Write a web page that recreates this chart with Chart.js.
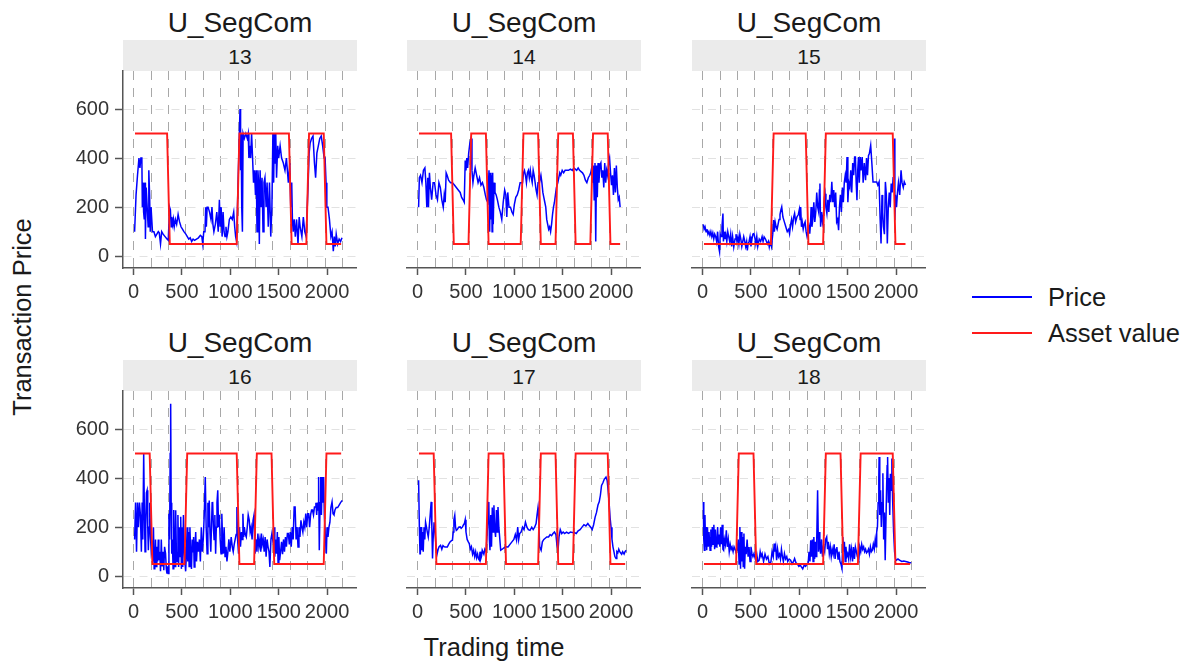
<!DOCTYPE html>
<html>
<head>
<meta charset="utf-8">
<script src="https://cdn.jsdelivr.net/npm/chart.js@4/dist/chart.umd.min.js"></script>
<style>
body { margin: 0; background: #fff; }
#fig { position: relative; width: 1192px; height: 667px; overflow: hidden; font-family: "Liberation Sans", Arial, sans-serif; color: #1a1a1a; }
.txt { position: absolute; white-space: nowrap; line-height: 1; }
.strip { position: absolute; background: #ebebeb; }
.box { position: absolute; }
.key { position: absolute; height: 2px; }
</style>
</head>
<body>
<div id="fig"></div>
<script>
// ---- data ----
const panelLabels = ["13", "14", "15", "16", "17", "18"];
const periodEdges = [0, 180, 360, 540, 720, 900, 1080, 1260, 1440, 1620, 1800, 1980, 2160];
const xTicks = [0, 500, 1000, 1500, 2000];
const yTicks = [0, 200, 400, 600];

// asset value per trading period
const asset13 = [500, 500, 50, 50, 50, 50, 500, 500, 500, 50, 500, 50];
const asset14 = [500, 500, 50, 500, 50, 50, 500, 50, 500, 50, 500, 50];
const asset15 = [50, 50, 50, 50, 500, 500, 50, 500, 500, 500, 500, 50];
const asset16 = [500, 50, 50, 500, 500, 500, 50, 500, 50, 50, 50, 500];
const asset17 = [500, 50, 50, 50, 500, 50, 50, 500, 50, 500, 500, 50];
const asset18 = [50, 50, 500, 50, 50, 50, 50, 500, 50, 500, 500, 50];

// transaction prices [time, price]
const price13 = [[10,100],[25,250],[40,330],[55,400],[65,360],[75,400],[85,400],[90,200],[97,300],[103,180],[110,150],[118,300],[122,70],[130,280],[140,200],[150,120],[157,350],[165,250],[172,100],[180,200],[195,100],[210,100],[225,80],[240,90],[255,100],[265,95],[278,50],[290,100],[305,90],[325,80],[345,70],[358,65],
[372,200],[380,190],[388,120],[395,160],[405,130],[412,150],[420,120],[432,150],[445,130],[460,170],[475,140],[490,120],[505,110],[520,100],[540,90],[555,80],[570,70],[585,75],[600,60],[615,70],[630,65],[650,70],[670,75],[690,85],[705,80],[715,50],[725,100],
[738,100],[745,200],[752,120],[760,200],[770,200],[785,180],[800,150],[810,200],[820,130],[830,100],[845,130],[860,180],[875,100],[887,230],[895,120],[905,200],[915,80],[925,180],[935,100],[945,80],[955,120],[965,80],[975,100],[990,150],[1005,160],[1020,150],[1035,180],[1045,120],[1055,80],[1065,60],
[1080,300],[1090,450],[1100,600],[1106,350],[1112,500],[1118,200],[1125,100],[1132,500],[1145,480],[1160,500],[1175,480],[1185,500],[1192,400],[1200,450],[1210,400],[1220,500],[1230,400],[1240,300],[1250,350],[1260,250],[1268,350],[1276,100],[1285,350],[1293,300],[1300,50],[1308,350],[1318,200],[1328,320],[1338,100],[1348,300],[1358,320],[1370,200],[1380,300],[1392,120],[1405,300],[1418,80],[1430,200],[1440,500],[1448,300],[1455,500],[1463,380],[1470,500],[1478,320],[1490,450],[1500,400],[1515,450],[1530,400],[1548,380],[1565,350],[1580,400],[1600,300],[1615,380],[1625,200],[1635,300],[1642,150],[1650,100],[1660,150],[1672,80],[1685,150],[1700,50],[1712,160],[1722,120],[1740,80],[1755,160],[1770,100],[1784,80],
[1805,300],[1815,420],[1825,460],[1840,480],[1855,490],[1870,380],[1882,320],[1895,420],[1910,450],[1925,480],[1940,490],[1955,450],[1970,400],[1980,400],[1990,300],[1998,200],[2010,200],[2025,150],[2040,80],[2052,100],[2065,20],[2075,80],[2085,40],[2095,90],[2110,50],[2125,70],[2140,60],[2155,75]];

const price14 = [[10,200],[18,320],[30,330],[45,300],[60,350],[75,360],[85,300],[95,200],[105,320],[112,200],[122,340],[132,280],[145,230],[160,300],[175,300],[190,250],[205,230],[220,300],[235,280],[250,230],[265,200],[275,250],[285,220],[295,340],[305,330],[320,310],[340,300],[360,300],[380,290],[400,280],[420,270],[440,260],[455,240],[470,230],[482,220],[492,390],[500,350],[508,400],[517,360],[528,420],[540,460],[552,480],[562,350],[572,300],[582,330],[595,360],[610,330],[625,300],[640,320],[655,290],[670,300],[685,280],[700,250],[712,230],
[725,220],[738,350],[745,100],[752,340],[758,150],[764,330],[770,100],[776,340],[782,130],[790,300],[800,260],[812,250],[825,230],[840,200],[855,180],[870,150],[885,220],[900,270],[912,250],[922,160],[932,260],[945,200],[960,200],[975,180],[988,170],[1000,210],[1015,240],[1030,250],[1045,270],[1060,300],[1075,300],
[1085,300],[1095,340],[1105,350],[1115,330],[1125,300],[1135,340],[1145,350],[1155,320],[1165,350],[1175,320],[1185,300],[1195,350],[1205,330],[1215,300],[1225,270],[1235,250],[1245,300],[1255,330],
[1265,310],[1275,330],[1285,300],[1295,260],[1305,240],[1315,220],[1325,200],[1335,150],[1345,130],[1355,110],[1365,120],[1375,100],[1385,130],[1395,170],[1405,200],[1415,220],[1425,250],[1435,280],
[1450,300],[1460,320],[1470,340],[1480,330],[1495,350],[1510,340],[1525,350],[1545,350],[1560,350],[1580,355],[1600,350],[1615,360],
[1630,355],[1645,350],[1660,360],[1675,350],[1690,345],[1705,340],[1720,330],[1735,310],[1750,300],[1765,320],[1780,330],[1790,340],
[1800,360],[1810,300],[1818,370],[1826,230],[1834,380],[1842,60],[1850,370],[1858,240],[1866,380],[1875,300],[1885,370],[1895,380],[1905,320],[1915,350],[1925,280],[1935,380],[1945,300],[1955,350],[1965,330],[1975,380],[1985,400],
[1995,340],[2005,290],[2015,330],[2025,250],[2035,360],[2045,260],[2055,370],[2065,280],[2075,230],[2085,240],[2094,200]];

const price15 = [[7,130],[15,110],[25,120],[35,100],[45,110],[55,90],[65,100],[75,85],[85,100],[95,80],[105,95],[115,70],[125,90],[135,80],[145,60],[155,100],[165,40],[175,18],[182,90],[190,80],[200,120],[210,174],[215,60],[222,100],[230,70],[240,90],[250,60],[260,100],[270,80],[280,60],[290,90],[300,40],[310,80],[322,38],[335,70],[345,90],[355,60],[365,80],[375,50],[385,90],[395,70],[405,40],[415,60],[425,80],[434,65],[445,40],[455,60],[462,24],[470,50],[480,60],[490,80],[500,40],[510,70],[520,90],[531,92],[540,75],[550,50],[560,80],[570,40],[585,70],[600,60],[615,80],[625,60],[636,79],[650,70],[660,60],[670,50],[680,60],[689,38],[700,60],[712,40],
[725,90],[734,147],[742,100],[750,140],[760,120],[770,110],[780,130],[790,150],[800,170],[810,190],[818,201],[830,160],[845,140],[860,120],[875,100],[890,110],[899,92],[910,130],[920,150],[930,120],[942,160],[951,174],[962,140],[975,160],[990,170],[1000,190],[1008,150],[1014,201],[1022,120],[1030,140],[1040,110],[1050,130],[1060,140],[1070,100],[1080,80],
[1090,100],[1100,120],[1108,92],[1115,130],[1122,201],[1130,120],[1140,150],[1150,220],[1160,140],[1170,180],[1180,260],[1190,200],[1200,180],[1208,270],[1213,296],[1220,120],[1230,180],[1240,140],[1250,170],[1260,240],[1266,255],[1275,200],[1285,174],[1295,230],[1305,180],[1315,250],[1325,220],[1336,303],[1346,220],[1356,270],[1366,200],[1376,260],[1386,140],[1396,150],[1406,106],[1415,200],[1425,250],[1435,180],[1445,280],[1455,220],[1465,300],[1475,330],[1485,300],[1493,404],[1502,220],[1512,300],[1522,282],[1532,350],[1542,260],[1552,380],[1562,330],[1572,404],[1580,404],[1588,300],[1596,228],[1604,350],[1612,404],[1620,300],[1630,404],[1638,350],[1650,404],[1660,300],[1672,380],[1685,310],[1695,400],[1705,330],[1715,410],[1725,420],[1738,452],[1750,380],[1762,303],[1775,303],[1790,303],[1800,303],[1812,290],[1825,303],[1835,160],[1845,52],[1855,250],[1862,180],[1870,120],[1880,90],[1890,303],[1900,250],[1910,52],[1920,200],[1930,260],[1940,200],[1950,296],[1960,260],[1970,320],[1978,364],[1983,480],[1988,147],[1995,250],[2005,200],[2015,260],[2025,300],[2038,250],[2052,350],[2062,300],[2075,280],[2085,303],[2098,290]];

const price16 = [[10,150],[20,300],[30,100],[40,300],[50,200],[60,300],[70,250],[80,100],[88,300],[95,150],[104,500],[110,300],[118,100],[125,200],[132,340],[139,350],[146,200],[152,106],[160,200],[167,300],[174,160],[182,100],[190,120],
[198,60],[205,200],[212,30],[219,38],[226,150],[232,40],[240,120],[248,60],[255,150],[261,65],[270,100],[278,20],[286,150],[295,40],[304,100],[312,24],[320,120],[330,92],[338,30],[345,11],[352,40],[358,11],[365,255],[372,150],[378,500],[383,703],[388,300],[394,92],[400,150],[408,30],[415,270],[422,150],[428,40],[435,269],[442,100],[450,60],[458,250],[465,38],[472,200],[480,80],[487,242],[494,30],[501,200],[508,38],[515,250],[522,120],[530,60],[538,20],
[546,92],[553,200],[560,60],[567,180],[574,40],[582,200],[590,100],[598,30],[606,150],[614,100],[620,160],[626,38],[634,120],[642,180],[650,60],[660,140],[670,100],[680,150],[690,60],[700,200],[710,100],[720,150],[730,250],[741,404],[750,200],[760,92],[768,300],[775,200],[782,309],[790,174],[798,100],[805,200],[812,300],[817,303],[825,200],[832,150],[840,250],[848,92],[855,200],[862,300],[870,350],[878,200],[886,250],[895,150],[904,92],[912,255],[920,150],[928,92],[936,200],[945,80],[955,120],[965,60],[975,100],[985,150],[995,100],[1009,160],[1020,120],[1030,100],[1040,130],[1050,150],[1060,170],[1068,282],[1075,150],
[1085,92],[1095,200],[1105,120],[1115,180],[1125,150],[1130,255],[1138,160],[1145,200],[1155,170],[1165,160],[1175,200],[1185,250],[1195,230],[1205,180],[1215,200],[1225,150],[1235,228],[1245,250],[1255,92],
[1265,150],[1275,100],[1285,174],[1295,120],[1305,150],[1315,100],[1322,174],[1330,130],[1340,150],[1350,100],[1360,160],[1370,80],[1380,150],[1390,120],[1400,100],[1409,38],[1420,150],[1430,174],
[1445,130],[1452,200],[1460,80],[1468,150],[1478,92],[1486,180],[1494,50],[1502,160],[1510,65],[1520,100],[1530,140],[1540,90],[1550,150],[1560,100],[1570,160],[1580,120],[1590,174],[1600,174],
[1610,130],[1620,180],[1630,120],[1640,200],[1650,150],[1660,282],[1670,282],[1680,150],[1690,200],[1700,119],[1710,200],[1720,160],[1730,228],[1740,200],[1750,180],[1760,220],[1770,200],[1780,255],[1790,200],[1800,255],
[1810,255],[1820,200],[1830,250],[1840,270],[1850,270],[1860,250],[1870,282],[1878,282],[1885,300],[1893,250],[1900,300],[1908,270],[1913,404],[1920,106],[1928,300],[1935,404],[1942,250],[1950,404],[1958,300],[1965,404],[1972,250],
[1985,150],[1993,92],[2000,200],[2010,160],[2020,200],[2030,220],[2040,280],[2052,303],[2062,255],[2072,250],[2082,270],[2095,280],[2110,280],[2125,290],[2140,300],[2157,309]];

const price17 = [[10,391],[18,200],[24,92],[28,92],[35,201],[42,106],[50,180],[58,100],[66,200],[74,150],[82,220],[91,201],[100,180],[110,160],[120,200],[130,250],[140,303],[147,200],[154,72],[160,150],[170,220],[180,180],
[190,120],[202,92],[212,110],[222,120],[237,126],[250,110],[262,125],[275,120],[290,119],[307,119],[320,130],[335,140],[350,145],[360,147],[368,180],[375,230],[384,248],[392,200],[400,187],[410,190],[425,200],[440,201],[450,195],[464,201],[475,210],[484,215],[492,230],[500,180],[512,150],[524,140],[534,133],[545,110],[556,120],[568,90],[579,106],[590,80],[600,100],[610,75],[620,90],[630,70],[639,65],[645,100],[652,70],[660,80],[668,106],[674,106],[685,90],[695,110],[709,99],
[722,200],[736,303],[742,150],[748,106],[756,250],[764,120],[772,280],[780,180],[789,289],[796,200],[806,160],[815,270],[822,180],[831,282],[840,200],[850,150],[859,106],
[875,110],[890,115],[910,120],[935,119],[955,130],[975,140],[995,150],[1010,170],[1023,147],[1035,200],[1045,150],[1055,174],[1070,180],[1085,200],[1100,190],[1115,220],[1130,200],[1145,190],[1162,187],[1180,200],[1195,190],[1210,200],[1225,215],[1235,250],[1245,280],[1250,255],
[1262,120],[1277,106],[1290,140],[1305,150],[1320,155],[1335,160],[1354,160],[1370,170],[1385,165],[1400,174],[1415,180],[1430,170],[1440,130],[1452,106],
[1462,160],[1475,190],[1490,174],[1505,180],[1520,174],[1540,180],[1560,175],[1580,180],[1600,178],[1620,178],[1640,174],
[1660,185],[1680,190],[1700,200],[1720,210],[1740,205],[1760,215],[1773,208],[1790,200],[1805,190],[1820,210],[1835,240],[1850,260],[1865,290],[1878,303],[1890,330],[1902,370],[1915,380],[1930,395],[1948,404],[1960,390],[1970,350],[1980,300],[1990,240],[2000,200],[2010,150],[2020,120],[2030,100],[2040,80],[2052,72],[2060,100],[2070,95],[2080,110],[2090,100],[2100,95],[2110,90],[2120,100],[2135,90],[2145,100],[2157,106]];

const price18 = [[7,303],[12,150],[18,106],[24,250],[30,120],[36,201],[42,106],[50,200],[58,120],[66,180],[77,106],[85,190],[92,120],[100,201],[108,130],[116,210],[124,110],[132,190],[140,120],[147,119],[155,201],[162,130],[170,170],[178,120],[186,200],[194,130],[202,210],[210,110],[217,106],[225,150],[235,130],[245,187],[255,120],[265,150],[275,100],[285,130],[295,110],[304,119],[315,100],[325,120],[335,110],[345,100],[357,106],
[368,150],[377,50],[385,201],[392,31],[399,180],[406,60],[413,160],[420,40],[427,174],[434,31],[441,120],[450,90],[460,150],[470,80],[480,119],[490,60],[500,120],[510,92],[520,80],[531,92],
[545,70],[560,90],[570,60],[584,65],[595,100],[605,80],[615,92],[630,60],[645,90],[660,70],[675,80],[690,50],[706,58],[718,100],[730,80],[740,133],[748,100],[756,120],[765,65],[775,110],[785,80],[795,90],[805,70],[815,110],[825,80],[835,60],[846,92],[858,70],[870,80],[880,60],[895,70],[910,65],[925,50],[940,60],[951,72],[965,55],[980,50],[995,40],[1010,45],[1021,38],[1035,30],[1050,45],[1065,40],[1080,50],[1091,52],[1100,100],[1110,60],[1118,147],[1126,80],[1135,150],[1142,60],[1150,160],[1158,70],[1165,140],[1173,80],[1180,150],[1189,350],[1198,100],[1205,180],[1212,120],[1220,92],[1230,150],[1240,80],[1250,120],
[1262,100],[1272,150],[1283,160],[1292,110],[1300,140],[1310,92],[1320,120],[1330,80],[1340,110],[1350,90],[1360,130],[1370,70],[1380,110],[1388,119],[1400,70],[1410,100],[1420,60],[1430,50],[1441,31],
[1450,160],[1458,100],[1466,140],[1474,60],[1482,120],[1490,80],[1500,92],[1510,70],[1520,130],[1530,80],[1540,110],[1550,60],[1560,119],[1570,70],[1580,119],[1590,100],[1600,80],[1615,65],
[1625,119],[1635,100],[1645,130],[1655,110],[1665,120],[1675,100],[1685,110],[1695,95],[1705,100],[1715,110],[1725,90],[1735,120],[1745,100],[1755,106],[1765,130],[1775,110],[1785,150],[1795,120],[1800,180],[1808,201],[1815,300],[1822,400],[1825,486],[1832,250],[1840,350],[1848,201],[1856,300],[1864,420],[1872,150],[1880,260],[1888,65],[1895,65],[1902,350],[1908,450],[1913,486],[1920,300],[1928,400],[1935,250],[1942,418],[1950,350],[1957,480],[1965,309],
[1975,180],[1985,100],[1995,70],[2005,65],[2020,70],[2040,65],[2060,60],[2080,62],[2100,60],[2120,58],[2140,55],[2157,55]];

const priceSeries = [price13, price14, price15, price16, price17, price18];
const assetSeries = [asset13, asset14, asset15, asset16, asset17, asset18];

// ---- layout ----
const FONT = '"Liberation Sans", Arial, sans-serif';
const colLeft = [123, 407, 692];
const rowTop = [71, 391];
const PW = 234, PH = 197;
const xMin = -110, xMax = 2310, yMin = -48, yMax = 755;
const assetInset = 14;
const fig = document.getElementById("fig");

function text(str, x, baseline, size, align, color) {
  const d = document.createElement("div");
  d.className = "txt";
  d.textContent = str;
  d.style.fontSize = size + "px";
  d.style.top = (baseline - 0.8465 * size) + "px";
  d.style.left = x + "px";
  if (color) d.style.color = color;
  if (align === "center") d.style.transform = "translateX(-50%)";
  fig.appendChild(d);
  return d;
}

function assetPoints(values, lastTime) {
  const pts = [];
  values.forEach((v, k) => {
    pts.push({x: periodEdges[k] + assetInset, y: v});
    pts.push({x: Math.min(periodEdges[k + 1] - assetInset, lastTime), y: v});
  });
  return pts;
}

function buildChart(canvas, idx, col) {
  const prices = priceSeries[idx];
  const tickFont = {family: FONT, size: 20};
  return new Chart(canvas, {
    type: "line",
    data: {
      datasets: [
        {label: "Price", data: prices.map(d => ({x: d[0], y: d[1]})), borderColor: "#0000ff", borderWidth: 1.5, pointRadius: 0, tension: 0, order: 1},
        {label: "Asset value", data: assetPoints(assetSeries[idx], prices[prices.length - 1][0]), borderColor: "#ff1a1a", borderWidth: 1.9, pointRadius: 0, tension: 0, order: 0}
      ]
    },
    options: {
      responsive: false,
      animation: false,
      events: [],
      layout: {padding: 0},
      plugins: {legend: {display: false}, tooltip: {enabled: false}},
      scales: {
        x: {
          type: "linear", min: xMin, max: xMax, position: "bottom",
          afterBuildTicks: a => { a.ticks = xTicks.map(v => ({value: v})); },
          afterFit: a => { a.height = 34; },
          ticks: {autoSkip: false, maxRotation: 0, minRotation: 0, padding: 5, color: "#333", font: tickFont, callback: v => String(v)},
          grid: {drawOnChartArea: false, drawTicks: true, tickLength: 7, tickColor: "#555", tickWidth: 1.5},
          border: {display: true, color: "#555", width: 1.5}
        },
        xg: {
          type: "linear", min: xMin, max: xMax, position: "bottom",
          afterBuildTicks: a => { a.ticks = periodEdges.map(v => ({value: v})); },
          afterFit: a => { a.height = 0; },
          ticks: {display: false},
          grid: {drawOnChartArea: true, drawTicks: false, color: "#a8a8a8", lineWidth: 1},
          border: {display: false, dash: [9, 8]}
        },
        y: {
          type: "linear", min: yMin, max: yMax,
          afterBuildTicks: a => { a.ticks = yTicks.map(v => ({value: v})); },
          afterFit: a => { a.width = 50; },
          ticks: {padding: 6, color: col === 0 ? "#333" : "rgba(0,0,0,0)", font: tickFont, callback: v => String(v)},
          grid: {color: "#e2e2e2", lineWidth: 1, drawTicks: true, tickLength: 8, tickColor: col === 0 ? "#555" : "rgba(0,0,0,0)", tickWidth: 1.5, tickBorderDash: []},
          border: {display: col === 0, color: "#555", width: 1.5, dash: [8, 8]}
        }
      }
    }
  });
}

panelLabels.forEach((lab, idx) => {
  const col = idx % 3, row = Math.floor(idx / 3);
  const L = colLeft[col], T = rowTop[row];

  text("U_SegCom", L + PW / 2, T - 38, 28, "center", "#1a1a1a");
  const s = document.createElement("div");
  s.className = "strip";
  s.style.left = L + "px"; s.style.top = (T - 31) + "px";
  s.style.width = PW + "px"; s.style.height = "31px";
  fig.appendChild(s);
  text(lab, L + PW / 2, T - 7, 21, "center", "#1a1a1a");

  const wrap = document.createElement("div");
  wrap.className = "box";
  fig.appendChild(wrap);
  let padL = 60, padT = 12, padR = 10, padB = 36, chart = null;
  for (let k = 0; k < 3; k++) {
    if (chart) chart.destroy();
    wrap.innerHTML = "";
    const cv = document.createElement("canvas");
    const W = Math.round(PW + padL + padR), H = Math.round(PH + padT + padB);
    cv.width = W; cv.height = H;
    cv.style.width = W + "px"; cv.style.height = H + "px";
    wrap.appendChild(cv);
    chart = buildChart(cv, idx, col);
    const ca = chart.chartArea;
    wrap.style.left = Math.round(L - ca.left) + "px";
    wrap.style.top = Math.round(T - ca.top) + "px";
    padL = ca.left; padT = ca.top; padR = W - ca.right; padB = H - ca.bottom;
  }
});

// axis titles
const yt = text("Transaction Price", 23, 0, 25.5, null, "#1a1a1a");
yt.style.top = "317px";
yt.style.transform = "translate(-50%, -50%) rotate(-90deg)";
text("Trading time", 494, 657, 25.5, "center", "#1a1a1a");

// legend
const legendItems = [["Price", "#0000ff", 297], ["Asset value", "#ff1a1a", 333]];
legendItems.forEach(([name, color, y]) => {
  const k = document.createElement("div");
  k.className = "key";
  k.style.left = "972px"; k.style.width = "60px";
  k.style.top = (y - 1) + "px"; k.style.background = color;
  fig.appendChild(k);
  text(name, 1048, y + 10, 25.5, null, "#1a1a1a");
});
</script>
</body>
</html>
